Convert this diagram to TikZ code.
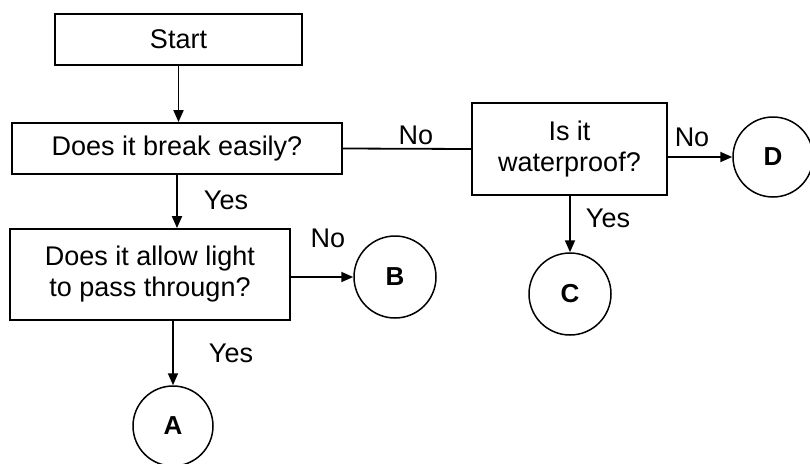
\documentclass[tikz,border=0pt]{standalone}
\usepackage{fontspec}
\setmainfont{Liberation Sans}
\usetikzlibrary{arrows.meta}
\begin{document}
\begin{tikzpicture}[x=1pt,y=-1pt,
  box/.style={draw, line width=1.8pt, inner sep=0pt, align=center, font=\fontsize{27}{31}\selectfont},
  term/.style={draw, circle, line width=1.5pt, inner sep=0pt, font=\fontsize{26}{28}\selectfont\bfseries},
  lbl/.style={inner sep=0pt, font=\fontsize{27}{30}\selectfont},
  conn/.style={line width=1.8pt},
  arr/.style={conn, -{Triangle[length=12pt,width=10pt]}}]
\useasboundingbox (0,0) rectangle (810,463);
\node[box, minimum width=247pt, minimum height=51pt] (start) at (178.5,39.5) {Start};
\node[box, minimum width=330pt, minimum height=51pt] (brk) at (177,148.5) {Does it break easily?};
\node[box, minimum width=195pt, minimum height=92pt] (wp) at (569.5,149) {Is it\\waterproof?};
\node[box, minimum width=280pt, minimum height=91pt] (allow) at (150,274.5) {Does it allow light\\to pass througn?};
\node[term, minimum size=80pt] (D) at (773,157) {D};
\node[term, minimum size=82pt] (C) at (570,294) {C};
\node[term, minimum size=82pt] (B) at (395,277) {B};
\node[term, minimum size=80pt] (A) at (173,426) {A};
\draw[arr] (start.south) -- (start.south |- brk.north);
\draw[conn] (brk.east) -- (wp.west);
\draw[arr] (wp.east |- D) -- (D.west);
\draw[arr] (C |- wp.south) -- (C.north);
\draw[arr] (brk.south) -- (brk.south |- allow.north);
\draw[arr] (allow.east |- B) -- (B.west);
\draw[arr] (A |- allow.south) -- (A.north);
\node[lbl] (l1) at (416,135) {No};
\node[lbl] (l2) at (692,137) {No};
\node[lbl] (l3) at (608,218) {Yes};
\node[lbl] (l4) at (226,200) {Yes};
\node[lbl] (l5) at (328,238) {No};
\node[lbl] (l6) at (231,353) {Yes};
\end{tikzpicture}
\end{document}
